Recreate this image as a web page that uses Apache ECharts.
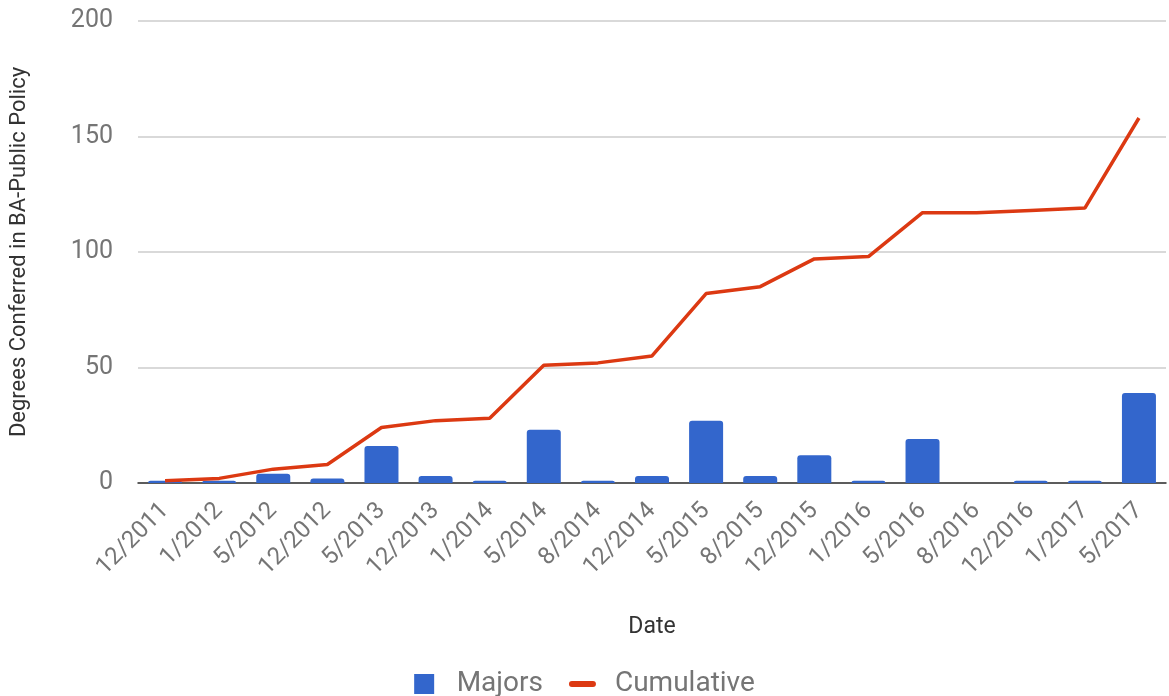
<!DOCTYPE html>
<html>
<head>
<meta charset="utf-8">
<script src="https://cdn.jsdelivr.net/npm/echarts@6/dist/echarts.min.js"></script>
<style>
  html, body { margin: 0; padding: 0; background: #fff; }
  #chart { width: 1169px; height: 696px; }
</style>
</head>
<body>
<div id="chart"></div>
<script>
const dates = ['12/2011', '1/2012', '5/2012', '12/2012', '5/2013', '12/2013', '1/2014', '5/2014', '8/2014',
  '12/2014', '5/2015', '8/2015', '12/2015', '1/2016', '5/2016', '8/2016', '12/2016', '1/2017', '5/2017'];
const majors = [1, 1, 4, 2, 16, 3, 1, 23, 1, 3, 27, 3, 12, 1, 19, 0, 1, 1, 39];
const cumulative = [1, 2, 6, 8, 24, 27, 28, 51, 52, 55, 82, 85, 97, 98, 117, 117, 118, 119, 158];
const yTicks = [0, 50, 100, 150, 200];

const font = 'Roboto';
const chart = echarts.init(document.getElementById('chart'));
chart.setOption({
  animation: false,
  textStyle: { fontFamily: font },
  grid: { left: 137, right: 3, top: 21, bottom: 213, containLabel: false },
  legend: {
    top: 665,
    left: 'center',
    itemGap: 26,
    itemWidth: 27,
    itemHeight: 20,
    symbolKeepAspect: true,
    textStyle: { fontSize: 28, color: '#757575', fontFamily: font, padding: [0, 0, 0, 14] },
    data: [
      { name: 'Majors', icon: 'path://M0,0 L20,0 L20,20 L0,20 Z' },
      { name: 'Cumulative', icon: 'path://M3,0 L24,0 A3,3 0 0 1 24,6 L3,6 A3,3 0 0 1 3,0 Z' }
    ]
  },
  xAxis: {
    type: 'category',
    data: dates,
    name: 'Date',
    nameLocation: 'middle',
    nameGap: 133,
    nameTextStyle: { fontSize: 23, color: '#333' },
    axisTick: { show: false },
    axisLine: { lineStyle: { color: '#333', width: 1.5 } },
    axisLabel: { rotate: 45, fontSize: 24, color: '#757575', interval: 0, margin: 24 }
  },
  yAxis: {
    type: 'value',
    min: yTicks[0],
    max: yTicks[yTicks.length - 1],
    interval: 50,
    name: 'Degrees Conferred in BA-Public Policy',
    nameLocation: 'middle',
    nameGap: 108,
    nameTextStyle: { fontSize: 22, color: '#333' },
    axisLabel: { fontSize: 25, color: '#757575', margin: 25 },
    splitLine: { lineStyle: { color: '#cccccc', width: 1.5 } },
    axisLine: { show: false },
    axisTick: { show: false }
  },
  series: [
    {
      name: 'Majors',
      type: 'bar',
      data: majors,
      barWidth: 34,
      itemStyle: { color: '#3366cc', borderRadius: [3, 3, 0, 0] }
    },
    {
      name: 'Cumulative',
      type: 'line',
      data: cumulative,
      symbol: 'none',
      lineStyle: { color: '#dc3912', width: 3.5 },
      itemStyle: { color: '#dc3912' }
    }
  ]
});
</script>
</body>
</html>
